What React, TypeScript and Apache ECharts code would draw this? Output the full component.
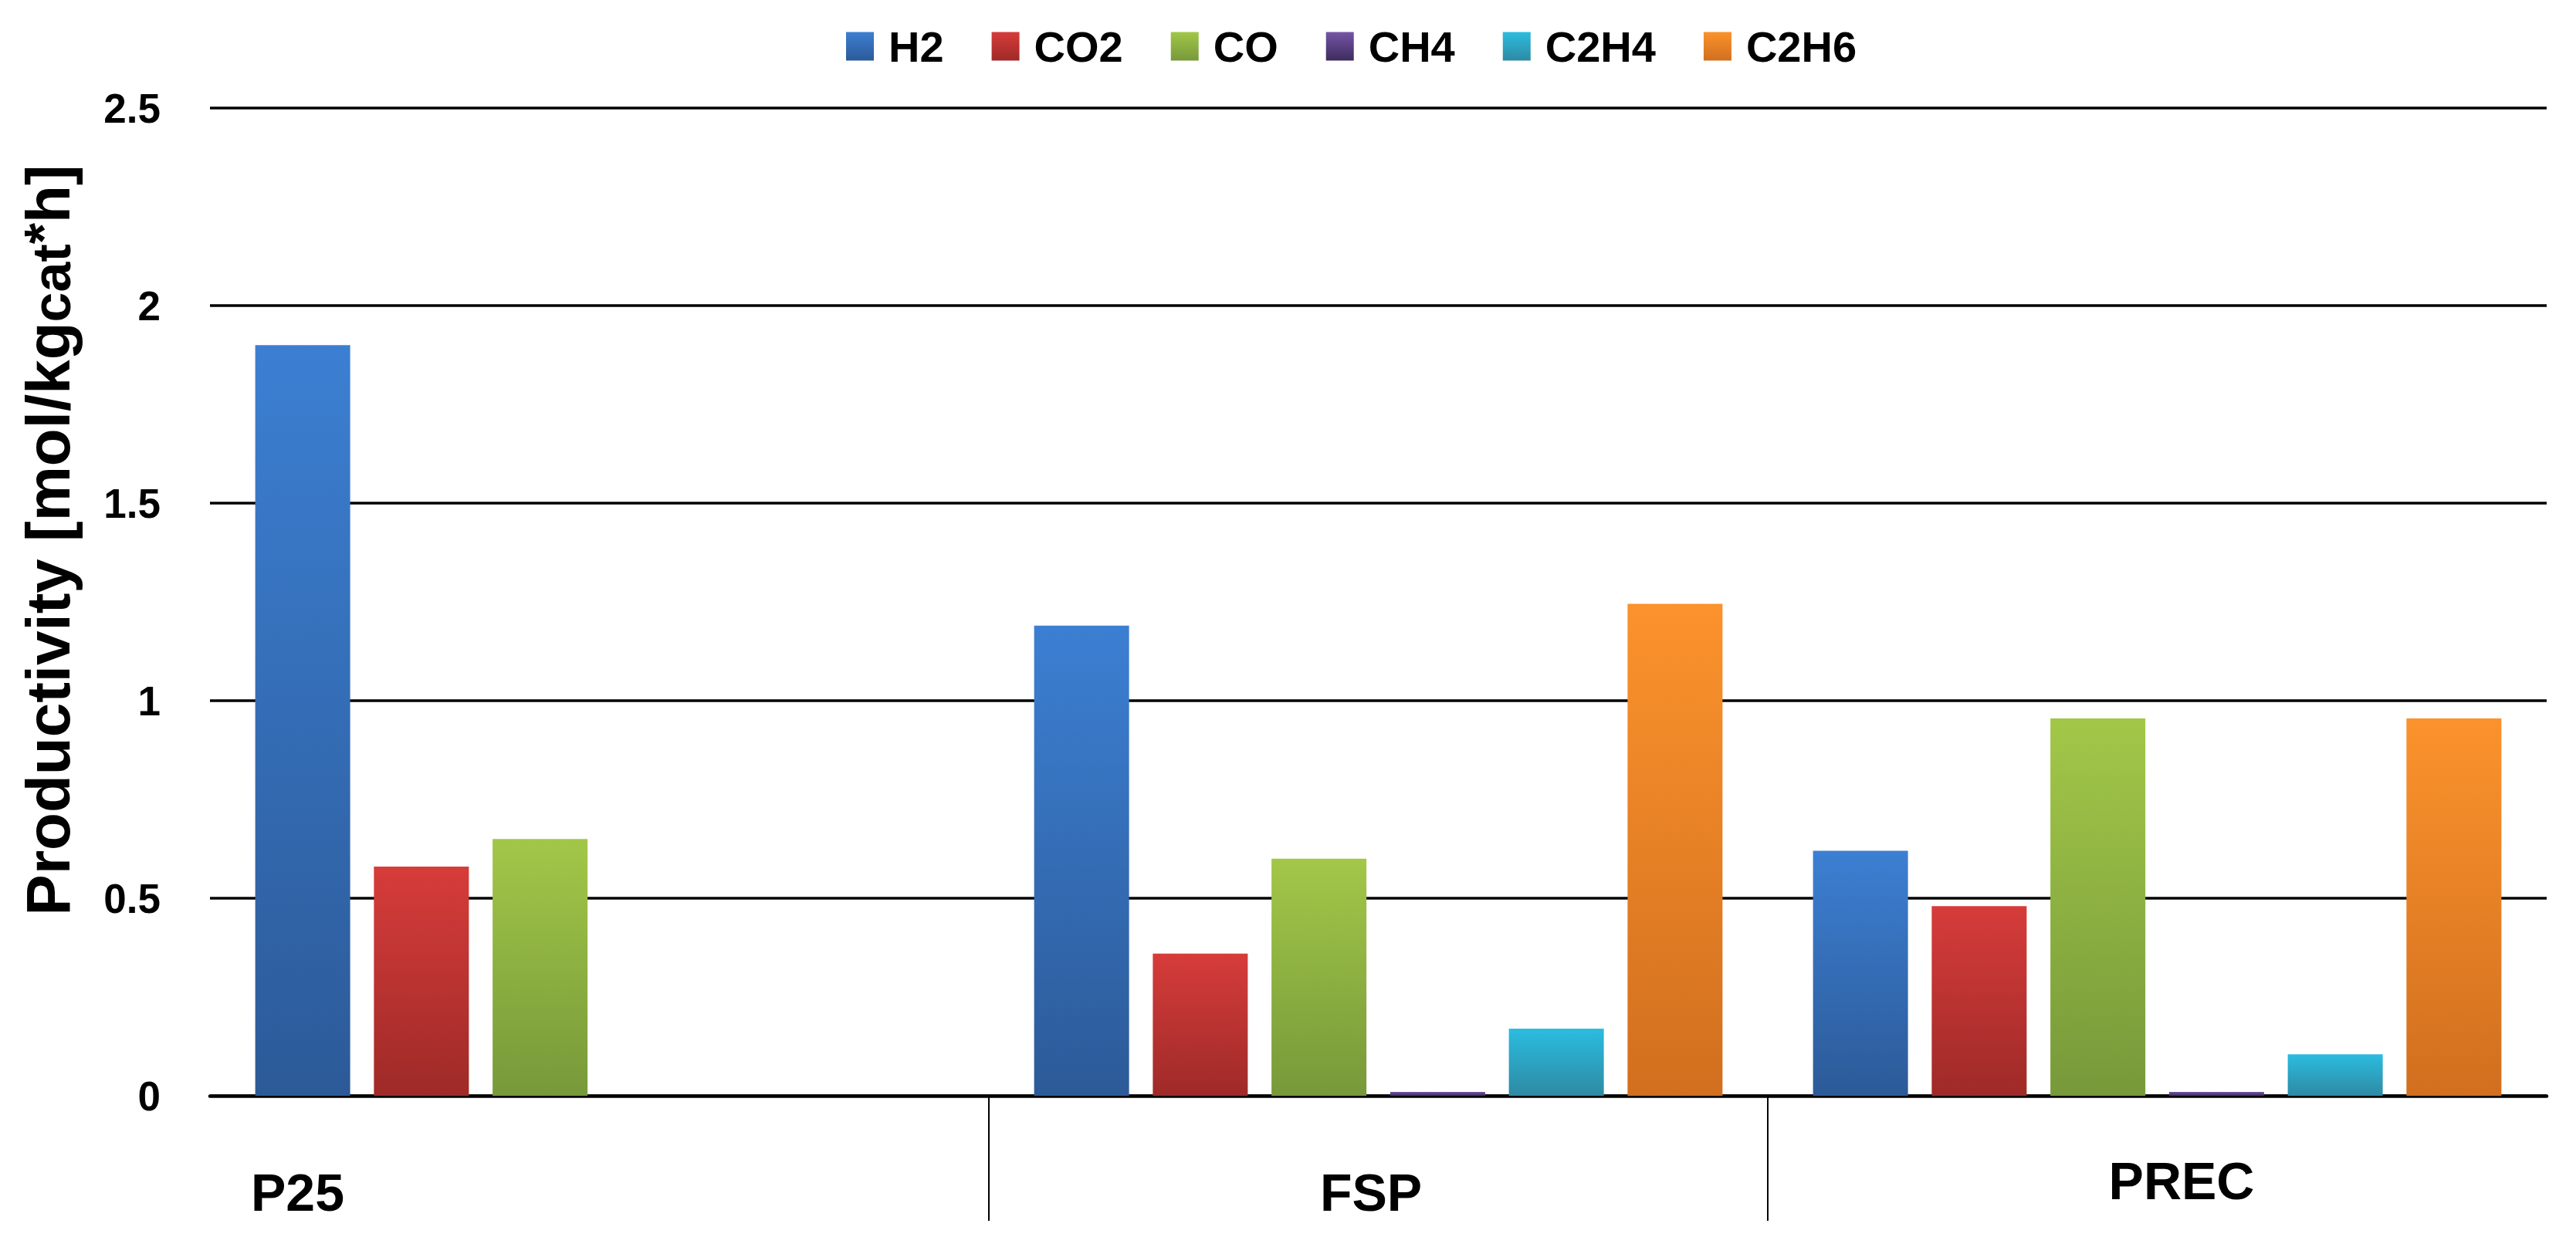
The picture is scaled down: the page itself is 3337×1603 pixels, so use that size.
import React, { useEffect, useRef } from "react";
import * as echarts from "echarts";

const categories = ["P25", "FSP", "PREC"];
const seriesNames = ["H2", "CO2", "CO", "CH4", "C2H4", "C2H6"];
const h2Values = [1.9, 1.19, 0.62];
const co2Values = [0.58, 0.36, 0.48];
const coValues = [0.65, 0.6, 0.955];
const ch4Values = [null, 0.01, 0.01];
const c2h4Values = [null, 0.17, 0.105];
const c2h6Values = [null, 1.245, 0.955];
const allValues = [h2Values, co2Values, coValues, ch4Values, c2h4Values, c2h6Values];

const gradientStops = [
  ["#3c7fd2", "#2c5a98"],
  ["#d63c3a", "#9e2a28"],
  ["#a2c748", "#77993a"],
  ["#7555a6", "#3d2c5c"],
  ["#2bbce0", "#2e8aa3"],
  ["#fb922c", "#d16f1f"],
];

const FONT = "'Liberation Sans', Arial, sans-serif";

export default function App() {
  const ref = useRef<HTMLDivElement | null>(null);

  useEffect(() => {
    if (!ref.current) return;
    const chart = echarts.init(ref.current, undefined, { renderer: "svg" });

    const series = seriesNames.map((name, i) => ({
      name,
      type: "bar",
      data: allValues[i],
      barWidth: 123,
      barGap: "25%",
      itemStyle: {
        color: new echarts.graphic.LinearGradient(0, 0, 0, 1, [
          { offset: 0, color: gradientStops[i][0] },
          { offset: 1, color: gradientStops[i][1] },
        ]),
      },
    }));

    const labelBase = { fontSize: 68, fontWeight: "bold", fontFamily: FONT, color: "#000" };

    chart.setOption({
      animation: false,
      backgroundColor: "#ffffff",
      grid: { left: 272, top: 140, width: 3027, height: 1280 },
      legend: {
        data: seriesNames,
        left: 1096,
        top: 32,
        padding: 0,
        icon: "rect",
        itemWidth: 36,
        itemHeight: 37,
        itemGap: 62,
        textStyle: {
          fontFamily: FONT,
          fontWeight: "bold",
          fontSize: 56,
          color: "#000",
          padding: [0, 0, 0, 14],
        },
      },
      xAxis: {
        type: "category",
        data: categories,
        axisLine: { lineStyle: { color: "#000", width: 4.5 } },
        axisTick: { show: false },
        axisLabel: {
          margin: 76,
          formatter: (v: string) => `{${v.toLowerCase()}|${v}}`,
          rich: {
            p25: { ...labelBase, padding: [15, 782, 0, 0] },
            fsp: { ...labelBase, padding: [15, 19, 0, 0] },
            prec: { ...labelBase, padding: [0, 0, 0, 63] },
          },
        },
      },
      yAxis: {
        type: "value",
        min: 0,
        max: 2.5,
        interval: 0.5,
        axisLine: { show: false },
        axisTick: { show: false },
        splitLine: { lineStyle: { color: "#000", width: 3.5 } },
        axisLabel: {
          margin: 64,
          fontSize: 53,
          fontWeight: "bold",
          fontFamily: FONT,
          color: "#000",
        },
      },
      graphic: [
        {
          id: "yname",
          type: "text",
          x: 62,
          y: 700,
          rotation: Math.PI / 2,
          style: {
            text: "Productivity [mol/kg{sub|cat}{sup|*}h]",
            fontSize: 80,
            fontWeight: "bold",
            fontFamily: FONT,
            fill: "#000",
            align: "center",
            verticalAlign: "middle",
            rich: {
              sub: {
                fontSize: 70,
                lineHeight: 70,
                fontWeight: "bold",
                fontFamily: FONT,
                fill: "#000",
                verticalAlign: "bottom",
              },
              sup: {
                fontSize: 70,
                lineHeight: 70,
                fontWeight: "bold",
                fontFamily: FONT,
                fill: "#000",
                verticalAlign: "top",
              },
            },
          },
        },
      ],
      series,
    });

    // category boundary ticks (only between categories), located via the axis scale
    const centers = categories.map((c) => chart.convertToPixel({ xAxisIndex: 0 }, c) as number);
    const zeroY = chart.convertToPixel({ yAxisIndex: 0 }, 0) as number;
    const ticks = [];
    for (let i = 0; i < centers.length - 1; i++) {
      const bx = (centers[i] + centers[i + 1]) / 2;
      ticks.push({
        id: "tick" + i,
        type: "line",
        shape: { x1: bx, y1: zeroY, x2: bx, y2: zeroY + 162 },
        style: { stroke: "#000", lineWidth: 2 },
      });
    }
    chart.setOption({ graphic: ticks });

    return () => chart.dispose();
  }, []);

  return (
    <div
      ref={ref}
      style={{ position: "absolute", left: 0, top: 0, width: 3337, height: 1603, background: "#fff" }}
    />
  );
}
